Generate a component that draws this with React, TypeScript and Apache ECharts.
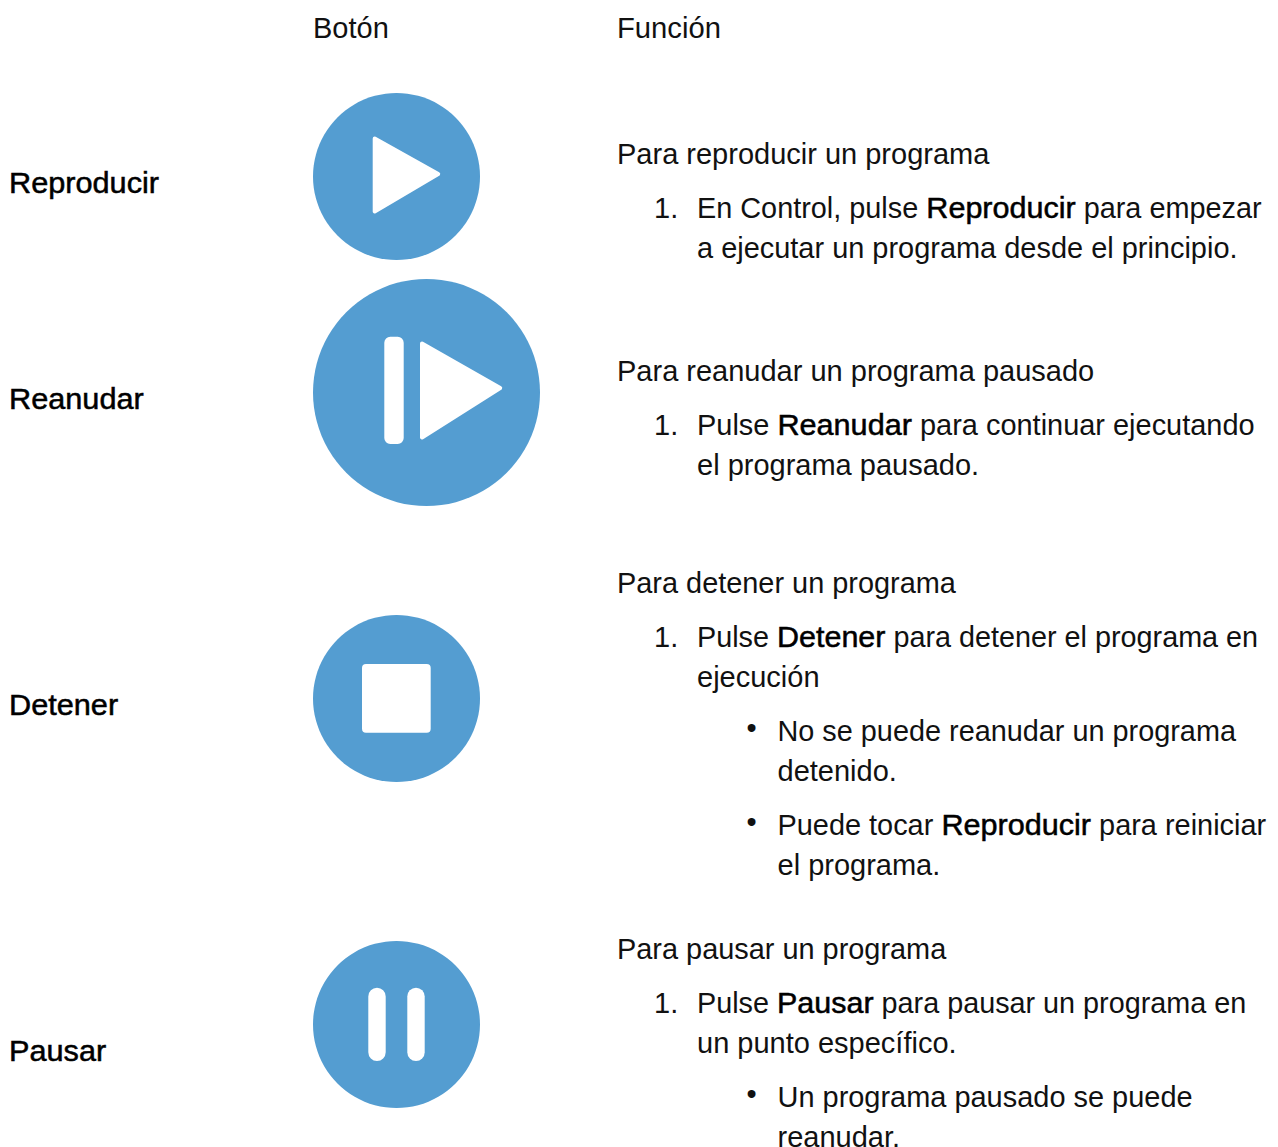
import React, { useEffect, useRef } from "react";
import * as echarts from "echarts";

const headers = ["Botón", "Función"];
const buttonNames = ["Reproducir", "Reanudar", "Detener", "Pausar"];
const paragraphs = [
  "Para reproducir un programa",
  "Para reanudar un programa pausado",
  "Para detener un programa",
  "Para pausar un programa",
];
const numbered = [
  ["En Control, pulse **Reproducir** para empezar", "a ejecutar un programa desde el principio."],
  ["Pulse **Reanudar** para continuar ejecutando", "el programa pausado."],
  ["Pulse **Detener** para detener el programa en", "ejecución"],
  ["Pulse **Pausar** para pausar un programa en", "un punto específico."],
];
const bullets = [
  ["No se puede reanudar un programa", "detenido."],
  ["Puede tocar **Reproducir** para reiniciar", "el programa."],
  ["Un programa pausado se puede", "reanudar."],
];

const FONT = "Liberation Sans";
const SIZE = 29;
const BOLD_STRETCH = 1.058;
const BLUE = "#549DD1";
const INK = "#111111";

const ctx = document.createElement("canvas").getContext("2d")!;
ctx.font = `${SIZE}px "${FONT}"`;

function txt(x: number, y: number, line: string, fit = 1) {
  const out: any[] = [];
  let cursor = x;
  line.split("**").forEach((part, i) => {
    if (!part) return;
    const bold = i % 2 === 1;
    const sx = (bold ? BOLD_STRETCH : 1) * fit;
    out.push({
      type: "text",
      x: cursor,
      y,
      scaleX: sx,
      style: {
        text: part,
        fontFamily: FONT,
        fontSize: SIZE,
        fill: bold ? "#000000" : INK,
        stroke: bold ? "#000000" : undefined,
        lineWidth: bold ? 0.5 : 0,
        verticalAlign: "middle",
        align: "left",
      },
    });
    cursor += ctx.measureText(part).width * sx;
  });
  return out;
}

function tri(x0: number, y0: number, y1: number, x1: number, ym: number) {
  return {
    type: "polygon",
    shape: { points: [[x0 + 2, y0 + 3.5], [x1 - 2.5, ym], [x0 + 2, y1 - 3.5]] },
    style: { fill: "#fff", stroke: "#fff", lineWidth: 4, lineJoin: "round" },
  };
}
function box(x0: number, y0: number, x1: number, y1: number, r: number) {
  return {
    type: "rect",
    shape: { x: x0, y: y0, width: x1 - x0, height: y1 - y0, r },
    style: { fill: "#fff" },
  };
}
function disc(cx: number, cy: number, r: number) {
  return { type: "circle", shape: { cx, cy, r }, style: { fill: BLUE } };
}

export default function App() {
  const ref = useRef<HTMLDivElement>(null);
  useEffect(() => {
    const chart = echarts.init(ref.current!, undefined, { renderer: "svg" });
    const elements: any[] = [
      ...txt(313, 28, headers[0]),
      ...txt(617, 28, headers[1], 1.008),
      ...txt(9, 183, `**${buttonNames[0]}**`),
      ...txt(9, 399, `**${buttonNames[1]}**`),
      ...txt(9, 705, `**${buttonNames[2]}**`),
      ...txt(9, 1051, `**${buttonNames[3]}**`),

      ...txt(617, 154, paragraphs[0]),
      ...txt(654, 208, "1."),
      ...txt(697, 208, numbered[0][0], 0.995),
      ...txt(697, 248, numbered[0][1], 0.998),

      ...txt(617, 371, paragraphs[1]),
      ...txt(654, 425, "1."),
      ...txt(697, 425, numbered[1][0], 0.998),
      ...txt(697, 465, numbered[1][1]),

      ...txt(617, 583, paragraphs[2], 0.997),
      ...txt(654, 637, "1."),
      ...txt(697, 637, numbered[2][0], 0.993),
      ...txt(697, 677, numbered[2][1]),
      ...txt(746.5, 728, "•"),
      ...txt(777.5, 731, bullets[0][0], 0.995),
      ...txt(777.5, 771, bullets[0][1]),
      ...txt(746.5, 822, "•"),
      ...txt(777.5, 825, bullets[1][0], 0.997),
      ...txt(777.5, 865, bullets[1][1]),

      ...txt(617, 949, paragraphs[3], 0.997),
      ...txt(654, 1003, "1."),
      ...txt(697, 1003, numbered[3][0], 0.993),
      ...txt(697, 1043, numbered[3][1]),
      ...txt(746.5, 1094, "•"),
      ...txt(777.5, 1097, bullets[2][0], 0.998),
      ...txt(777.5, 1137, bullets[2][1]),

      disc(396.5, 176.5, 83.5),
      tri(372.7, 135, 215, 440.7, 174),
      disc(426.5, 392.5, 113.5),
      box(384.3, 336.7, 403.7, 444, 6),
      tri(420, 340, 441, 502.7, 388),
      disc(396.5, 698.5, 83.5),
      box(362, 664, 430.7, 732.7, 4),
      disc(396.5, 1024.5, 83.5),
      box(368.3, 987.7, 385.7, 1061, 8.7),
      box(407.3, 987.7, 424.7, 1061, 8.7),
    ];
    chart.setOption({ animation: false, graphic: { elements } });
    return () => chart.dispose();
  }, []);
  return (
    <div
      ref={ref}
      style={{ position: "absolute", left: 0, top: 0, width: 1278, height: 1147, background: "#fff", overflow: "hidden" }}
    />
  );
}
